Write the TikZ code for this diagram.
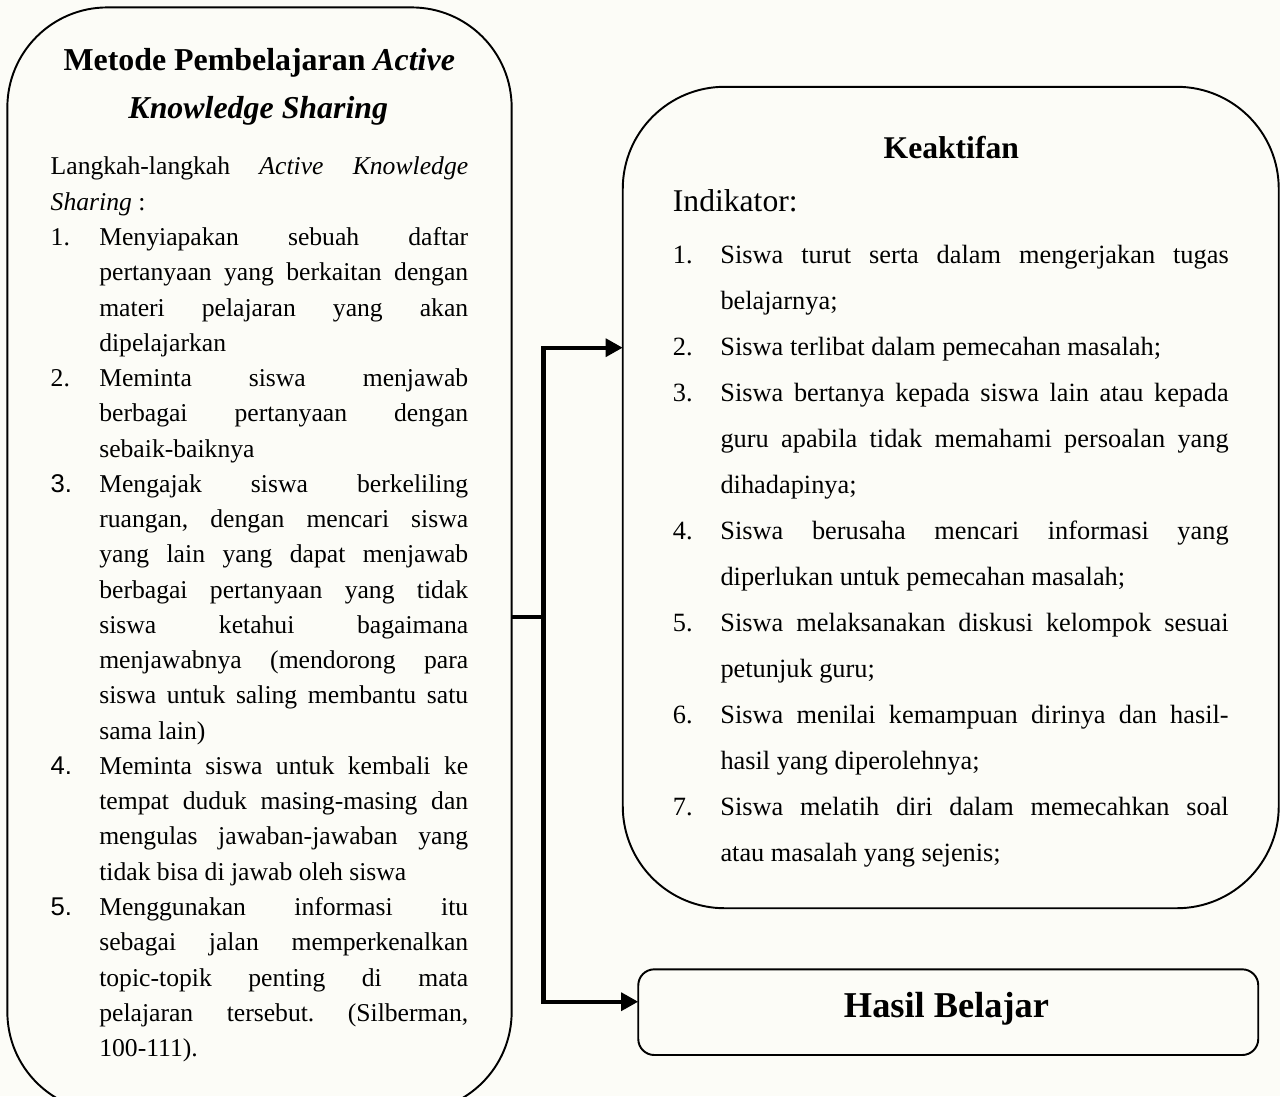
\documentclass[tikz,border=0pt]{standalone}
\usepackage{fontspec}
\setmainfont{Liberation Serif}
\newfontfamily\numsans{Liberation Sans}
\usetikzlibrary{arrows.meta}
\definecolor{bgcream}{RGB}{252,252,247}
\tikzset{
  box/.style={draw=black, line width=1.1pt, inner sep=0pt, outer sep=0pt},
  conn/.style={line width=2.5pt, line join=miter},
  arr/.style={conn, -{Triangle[length=9.7pt,width=10pt]}},
  lbl/.style={inner sep=0pt, outer sep=0pt},
}
\newcommand{\parsetup}{\parindent=0pt \parskip=0pt \leftskip=0pt \rightskip=0pt
  \parfillskip=0pt plus 1fil \tolerance=10000 \hbadness=10000
  \hyphenpenalty=10000 \exhyphenpenalty=10000 \emergencystretch=0pt \frenchspacing}
\newcommand{\itemL}[1]{\hangindent=0.972cm \hangafter=1 \noindent\makebox[0.972cm][l]{#1}}
\newcommand{\itemR}[1]{\hangindent=0.952cm \hangafter=1 \noindent\makebox[0.952cm][l]{#1}}
\begin{document}
\begin{tikzpicture}[x=0.02cm,y=-0.02cm]
\path[use as bounding box, clip] (0,0) rectangle (1280,1096);
\fill[bgcream] (0,0) rectangle (1280,1096);

% boxes
\node[box, rounded corners=2cm, minimum width=10.088cm, minimum height=22.094cm] (ml) at (259.5,559.65) {};
\node[box, rounded corners=2.04cm, minimum width=13.122cm, minimum height=16.432cm] (kb) at (950.75,497.5) {};
\node[box, rounded corners=0.32cm, minimum width=12.402cm, minimum height=1.714cm] (hb) at (948.25,1012.15) {};

% left box text
\node[lbl, anchor=base, font=\bfseries\fontsize{18.15}{27}\selectfont] (t1) at (259.2,70) {Metode Pembelajaran \textit{Active}};
\node[lbl, anchor=base, font=\bfseries\fontsize{18.15}{27}\selectfont] (t2) at (258.3,118) {\textit{Knowledge Sharing}};
\node[lbl, anchor=north west, font=\fontsize{14.6}{20.07}\selectfont] (lb) at (50.7,153.9) {\parbox[t]{8.352cm}{\parsetup
\rule{0pt}{12pt}Langkah-langkah \textit{Active Knowledge}\linebreak \textit{Sharing} :\par
\itemL{1.}Menyiapakan sebuah daftar\linebreak pertanyaan yang berkaitan dengan\linebreak materi pelajaran yang akan\linebreak dipelajarkan\par
\itemL{2.}Meminta siswa menjawab\linebreak berbagai pertanyaan dengan\linebreak sebaik-baiknya\par
\itemL{\numsans 3.}Mengajak siswa berkeliling\linebreak ruangan, dengan mencari siswa\linebreak yang lain yang dapat menjawab\linebreak berbagai pertanyaan yang tidak\linebreak siswa ketahui bagaimana\linebreak menjawabnya (mendorong para\linebreak siswa untuk saling membantu satu\linebreak sama lain)\par
\itemL{\numsans 4.}Meminta siswa untuk kembali ke\linebreak tempat duduk masing-masing dan\linebreak mengulas jawaban-jawaban yang\linebreak tidak bisa di jawab oleh siswa\par
\itemL{\numsans 5.}Menggunakan informasi itu\linebreak sebagai jalan memperkenalkan\linebreak topic-topik penting di mata\linebreak pelajaran tersebut. (Silberman,\linebreak 100-111).\par}};

% right box text
\node[lbl, anchor=base, font=\bfseries\fontsize{18}{27}\selectfont] (kt) at (951.3,158.3) {Keaktifan};
\node[lbl, anchor=base west, font=\fontsize{18}{27}\selectfont] (ind) at (672.9,211.7) {Indikator:};
\node[lbl, anchor=north west, font=\fontsize{15}{26.2}\selectfont] (rb) at (672.9,242) {\parbox[t]{11.118cm}{\parsetup
\itemR{1.}\rule{0pt}{12pt}Siswa turut serta dalam mengerjakan tugas\linebreak belajarnya;\par
\itemR{2.}Siswa terlibat dalam pemecahan masalah;\par
\itemR{3.}Siswa bertanya kepada siswa lain atau kepada\linebreak guru apabila tidak memahami persoalan yang\linebreak dihadapinya;\par
\itemR{4.}Siswa berusaha mencari informasi yang\linebreak diperlukan untuk pemecahan masalah;\par
\itemR{5.}Siswa melaksanakan diskusi kelompok sesuai\linebreak petunjuk guru;\par
\itemR{6.}Siswa menilai kemampuan dirinya dan hasil-\linebreak hasil yang diperolehnya;\par
\itemR{7.}Siswa melatih diri dalam memecahkan soal\linebreak atau masalah yang sejenis;\par}};

% bottom box text
\node[lbl, anchor=base, font=\bfseries\fontsize{20.7}{25}\selectfont] (hbt) at (946.5,1017.3) {Hasil Belajar};

% connectors
\coordinate (jm) at (543.5,616.7);
\coordinate (jt) at (543.5,347.7);
\coordinate (jb) at (543.5,1001.7);
\draw[conn] (jm -| ml.east) -- (jm);
\draw[arr] (jb) -- (jt) -- (jt -| kb.west);
\draw[arr] (jt) -- (jb) -- (jb -| hb.west);
\end{tikzpicture}
\end{document}
